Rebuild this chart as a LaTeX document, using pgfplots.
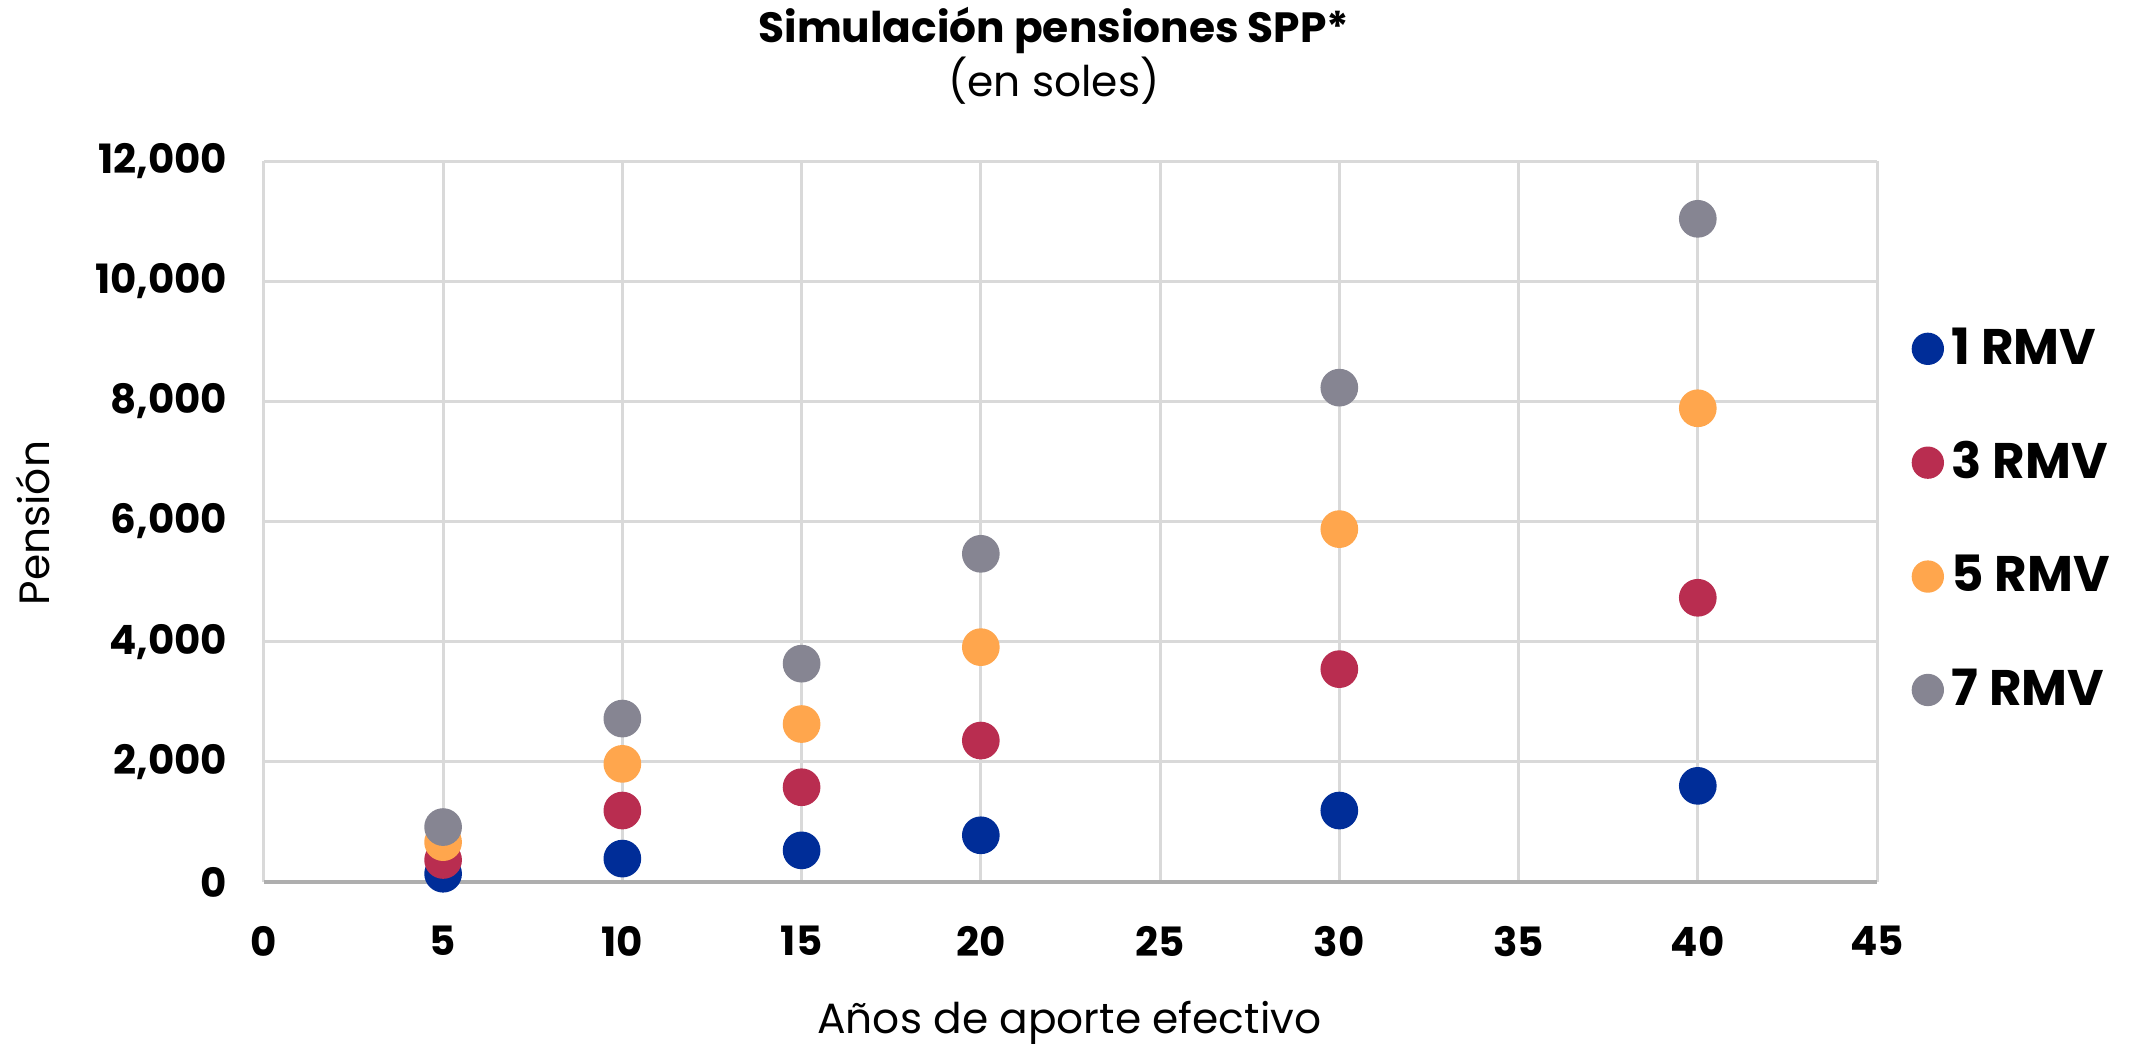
\documentclass[border=0pt]{standalone}
\usepackage{pgfplots}
\pgfplotsset{compat=1.18}
\usepackage{fontspec}
\setmainfont{Poppins}

\definecolor{rmvone}{RGB}{0,45,152}
\definecolor{rmvthree}{RGB}{185,45,80}
\definecolor{rmvfive}{RGB}{255,166,77}
\definecolor{rmvseven}{RGB}{134,133,146}
\definecolor{gridgray}{RGB}{217,217,217}

\begin{document}
\begin{tikzpicture}
\useasboundingbox (0,0) rectangle (560pt,272pt);
\begin{axis}[
    at={(68.6pt,42.7pt)}, anchor=south west,
    scale only axis,
    width=419.4pt, height=187.4pt,
    xmin=0, xmax=45, ymin=0, ymax=12000,
    xtick={0,5,...,45},
    ytick={0,2000,...,12000},
    grid=major,
    major grid style={gridgray, line width=0.8pt},
    axis x line*=bottom,
    axis y line*=left,
    x axis line style={gridgray!80!black, line width=1pt, -},
    y axis line style={draw=none},
    major tick length=0pt,
    tick label style={font=\fontsize{10.5}{12}\selectfont\bfseries},
    xticklabel style={yshift=-8pt},
    yticklabel style={xshift=-6pt},
    /pgf/number format/.cd, 1000 sep={,}, assume math mode=true,
    /pgfplots/.cd,
    scaled y ticks=false,
    legend style={at={(1.021,0.503)}, anchor=west, draw=none, fill=none,
        font=\fontsize{13}{15}\selectfont\bfseries, row sep=14.5pt,
        inner sep=0pt, /tikz/every even column/.append style={column sep=1pt}},
    legend cell align=left,
    legend image code/.code={\fill (4pt,0pt) circle (4pt);},
    every axis plot/.append style={only marks, mark=*, mark size=4.7pt},
]
\addplot[color=rmvone] coordinates {
    (5,137) (10,389) (15,526) (20,777) (30,1189) (40,1600)};
\addlegendentry{1 RMV}
\addplot[color=rmvthree] coordinates {
    (5,366) (10,1189) (15,1577) (20,2354) (30,3543) (40,4731)};
\addlegendentry{3 RMV}
\addplot[color=rmvfive] coordinates {
    (5,663) (10,1966) (15,2629) (20,3909) (30,5874) (40,7886)};
\addlegendentry{5 RMV}
\addplot[color=rmvseven] coordinates {
    (5,914) (10,2720) (15,3634) (20,5463) (30,8229) (40,11040)};
\addlegendentry{7 RMV}
\end{axis}
\node[font=\fontsize{11}{13}\selectfont\bfseries] at (274pt,264pt) {Simulación pensiones SPP*};
\node[font=\fontsize{11}{13}\selectfont] at (274pt,251pt) {(en soles)};
\node[font=\fontsize{11}{13}\selectfont] at (278pt,6pt) {Años de aporte efectivo};
\node[font=\fontsize{11}{13}\selectfont, rotate=90] at (8.6pt,136pt) {Pensión};
\end{tikzpicture}
\end{document}
